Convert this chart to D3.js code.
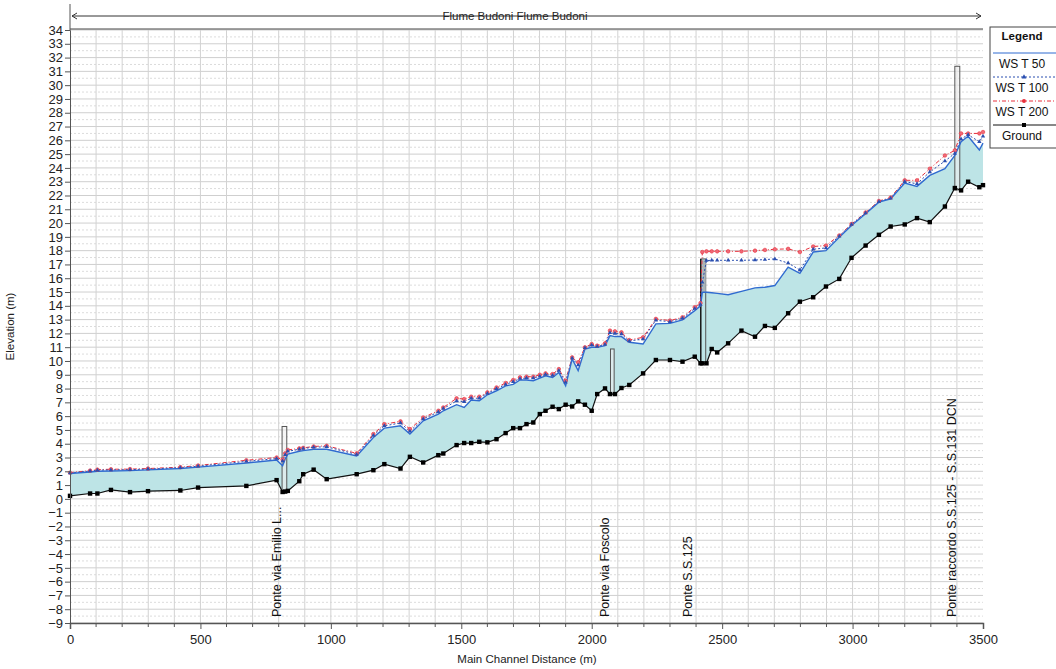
<!DOCTYPE html>
<html>
<head>
<meta charset="utf-8">
<script src="https://cdn.jsdelivr.net/npm/d3@7"></script>
<style>
  body { margin: 0; background: #fff; }
  text { font-family: "Liberation Sans", Arial, sans-serif; }
</style>
</head>
<body>
<div id="chart"></div>
<script>
// Main channel stations (m)
const stations = [0, 77, 105, 157, 230, 299, 423, 491, 676, 792, 815, 825, 835, 879, 894, 934, 984, 1099,
  1163, 1205, 1267, 1303, 1354, 1412, 1431, 1482, 1511, 1538, 1569, 1600, 1635, 1670, 1699, 1725, 1750,
  1776, 1801, 1823, 1850, 1874, 1900, 1925, 1948, 1974, 2000, 2021, 2051, 2070, 2089, 2114, 2144, 2197,
  2246, 2300, 2348, 2395, 2417, 2424, 2440, 2460, 2481, 2523, 2574, 2626, 2664, 2702, 2753, 2798, 2849,
  2898, 2949, 2996, 3050, 3101, 3146, 3200, 3247, 3296, 3354, 3392, 3416, 3443, 3486, 3500];

// Ground elevation (m)
const ground = [0.22, 0.39, 0.39, 0.65, 0.49, 0.56, 0.61, 0.82, 0.94, 1.36, 0.5, 0.53, 0.58, 1.28, 1.79, 2.12, 1.43, 1.79,
  2.08, 2.52, 2.2, 3.05, 2.64, 3.17, 3.29, 3.9, 4.05, 4.05, 4.14, 4.1, 4.33, 4.77, 5.13, 5.13, 5.42,
  5.54, 6.15, 6.39, 6.68, 6.51, 6.83, 6.7, 7.07, 6.83, 6.39, 7.6, 8.01, 7.6, 7.6, 8.04, 8.26, 9.1,
  10.07, 10.07, 9.95, 10.31, 9.83, 9.83, 9.83, 10.87, 10.62, 11.28, 12.2, 11.76, 12.54, 12.4, 13.46, 14.3, 14.62,
  15.4, 15.95, 17.48, 18.37, 19.15, 19.75, 19.9, 20.36, 20.07, 21.2, 22.54, 22.37, 23.0, 22.6, 22.75];

// Water surface, return period 50 years (m)
const wsT50 = [1.84, 1.95, 2.0, 2.02, 2.05, 2.1, 2.2, 2.3, 2.6, 2.82, 2.4, 2.9, 3.25, 3.45, 3.5, 3.6, 3.6, 3.12,
  4.45, 5.13, 5.3, 4.7, 5.66, 6.15, 6.39, 6.83, 6.63, 7.17, 7.12, 7.55, 7.84, 8.2, 8.3, 8.62, 8.62,
  8.57, 8.76, 8.93, 8.8, 9.17, 8.2, 10.14, 9.3, 10.87, 10.99, 10.99, 11.11, 11.84, 11.77, 11.77, 11.36, 11.23,
  12.69, 12.73, 12.98, 13.65, 14.0, 14.98, 14.98, 14.95, 14.9, 14.8, 15.05, 15.3, 15.35, 15.47, 16.8, 16.36, 17.9,
  18.0, 18.98, 19.83, 20.68, 21.52, 21.76, 22.9, 22.66, 23.46, 23.94, 24.9, 25.9, 26.3, 25.3, 25.8];

// Water surface, return period 100 years (m)
const wsT100 = [1.87, 2.02, 2.08, 2.1, 2.12, 2.16, 2.26, 2.37, 2.72, 2.92, 2.75, 3.2, 3.45, 3.6, 3.65, 3.75, 3.78, 3.22,
  4.6, 5.3, 5.5, 4.9, 5.8, 6.3, 6.55, 7.1, 7.05, 7.3, 7.3, 7.65, 7.98, 8.3, 8.5, 8.72, 8.76,
  8.76, 8.9, 9.02, 8.95, 9.3, 8.45, 10.2, 9.7, 10.95, 11.15, 11.05, 11.2, 12.05, 12.0, 11.95, 11.45, 11.6,
  12.95, 12.85, 13.1, 13.8, 14.1, 15.7, 17.28, 17.3, 17.3, 17.3, 17.3, 17.32, 17.35, 17.4, 17.1, 16.6, 18.1,
  18.2, 19.05, 19.9, 20.73, 21.55, 21.8, 23.0, 22.85, 23.7, 24.5, 25.05, 26.1, 26.4, 25.9, 26.3];

// Water surface, return period 200 years (m)
const wsT200 = [1.9, 2.05, 2.12, 2.15, 2.16, 2.2, 2.3, 2.42, 2.8, 3.0, 2.85, 3.3, 3.55, 3.66, 3.7, 3.8, 3.85, 3.3,
  4.7, 5.42, 5.62, 5.06, 5.9, 6.39, 6.63, 7.29, 7.24, 7.41, 7.41, 7.72, 8.08, 8.4, 8.62, 8.81, 8.86,
  8.86, 9.0, 9.1, 9.05, 9.41, 8.57, 10.26, 9.9, 10.99, 11.23, 11.11, 11.28, 12.2, 12.15, 12.08, 11.52, 11.72,
  13.05, 12.93, 13.17, 13.9, 14.2, 17.9, 17.95, 17.95, 17.95, 17.95, 17.95, 18.0, 18.05, 18.1, 18.13, 17.9, 18.3,
  18.37, 19.1, 19.93, 20.77, 21.6, 21.85, 23.1, 23.1, 23.94, 24.9, 25.27, 26.5, 26.5, 26.5, 26.6];

// Bridges: [start station, end station], [low, high] elevation
const bridgeNames = ["Ponte via Emilio L...", "Ponte via Foscolo", "Ponte S.S.125", "Ponte raccordo S.S.125 - S.S.131 DCN"];
const bridgeSta = [[813, 831], [2072, 2086], [2418, 2437], [3392, 3411]];
const bridgeElev = [[0.5, 5.25], [7.6, 10.87], [9.8, 17.4], [22.4, 31.37]];
const labelSta = [810, 2066, 2386, 3398];

const yTicks = d3.range(-9, 35);
const xTicks = [0, 500, 1000, 1500, 2000, 2500, 3000, 3500];
const legendItems = ["WS  T 50", "WS  T 100", "WS  T 200", "Ground"];

const W = 1056, H = 669;
const margin = { top: 30, right: 73, bottom: 46, left: 70 };

const svg = d3.select("#chart").append("svg")
  .attr("width", W)
  .attr("height", H);

const x = d3.scaleLinear().domain([0, 3500]).range([margin.left, W - margin.right]);
const y = d3.scaleLinear().domain([-9, 34]).range([H - margin.bottom, margin.top]);

const data = stations.map((s, i) => ({ s, g: ground[i], w50: wsT50[i], w100: wsT100[i], w200: wsT200[i] }));

// Grid
const grid = svg.append("g");
grid.selectAll(".hg").data(yTicks).enter().append("line")
  .attr("x1", x(0)).attr("x2", x(3500))
  .attr("y1", d => y(d)).attr("y2", d => y(d))
  .attr("stroke", "#cfcfcf").attr("stroke-width", 1);
grid.selectAll(".hh").data(yTicks.slice(0, -1)).enter().append("line")
  .attr("x1", x(0)).attr("x2", x(3500))
  .attr("y1", d => y(d + 0.5)).attr("y2", d => y(d + 0.5))
  .attr("stroke", "#dcdcdc").attr("stroke-dasharray", "2,2");
grid.selectAll(".vg").data(d3.range(100, 3500, 100)).enter().append("line")
  .attr("x1", d => x(d)).attr("x2", d => x(d))
  .attr("y1", y(34)).attr("y2", y(-9))
  .attr("stroke", "#d2d2d2").attr("stroke-width", 1);

// Water fill between ground and WS T50
svg.append("path")
  .datum(data)
  .attr("fill", "#bde4e6")
  .attr("d", d3.area().x(d => x(d.s)).y0(d => y(d.g)).y1(d => y(d.w50)));

// Bridges
bridgeSta.forEach((b, i) => {
  const e = bridgeElev[i];
  svg.append("rect")
    .attr("x", x(b[0])).attr("y", y(e[1]))
    .attr("width", x(b[1]) - x(b[0]))
    .attr("height", y(e[0]) - y(e[1]))
    .attr("fill", i === 2 ? "#bde4e6" : "#f0f0f0")
    .attr("fill-opacity", i === 2 ? 1 : 0.6)
    .attr("stroke", "#555").attr("stroke-width", 1);
});
// deck of S.S.125
svg.append("rect")
  .attr("x", x(2424)).attr("y", y(17.3))
  .attr("width", x(2437) - x(2424)).attr("height", y(14.98) - y(17.3))
  .attr("fill", "#a9b4b8");
svg.append("line")
  .attr("x1", x(2418)).attr("x2", x(2418))
  .attr("y1", y(17.4)).attr("y2", y(9.8))
  .attr("stroke", "#111").attr("stroke-width", 1.3);

// Lines
const line = key => d3.line().x(d => x(d.s)).y(d => y(d[key]));

svg.append("path").datum(data)
  .attr("fill", "none").attr("stroke", "#e8303c").attr("stroke-width", 1)
  .attr("stroke-dasharray", "4,2,1,2")
  .attr("d", line("w200"));
svg.append("path").datum(data)
  .attr("fill", "none").attr("stroke", "#2b4fb0").attr("stroke-width", 1)
  .attr("stroke-dasharray", "2,2")
  .attr("d", line("w100"));
svg.append("path").datum(data)
  .attr("fill", "none").attr("stroke", "#2f6bd0").attr("stroke-width", 1.4)
  .attr("d", line("w50"));
svg.append("path").datum(data)
  .attr("fill", "none").attr("stroke", "#111").attr("stroke-width", 1.2)
  .attr("d", line("g"));

// Markers
svg.selectAll(".m200").data(data).enter().append("circle")
  .attr("cx", d => x(d.s)).attr("cy", d => y(d.w200)).attr("r", 1.8)
  .attr("fill", "#ef6a78").attr("stroke", "#e8303c").attr("stroke-width", 0.6);
svg.selectAll(".m100").data(data).enter().append("path")
  .attr("transform", d => `translate(${x(d.s)},${y(d.w100)})`)
  .attr("d", d3.symbol(d3.symbolTriangle, 8))
  .attr("fill", "#2b4fb0");
svg.selectAll(".mg").data(data).enter().append("rect")
  .attr("x", d => x(d.s) - 2.2).attr("y", d => y(d.g) - 2.2)
  .attr("width", 4.4).attr("height", 4.4)
  .attr("fill", "#000");

// Bridge labels
svg.selectAll(".blab").data(bridgeNames).enter().append("text")
  .attr("transform", (d, i) => `translate(${x(labelSta[i])},617) rotate(-90)`)
  .attr("font-size", 12.5).attr("fill", "#111")
  .text(d => d);

// Axes
const yAxis = svg.append("g")
  .attr("transform", `translate(${margin.left},0)`)
  .call(d3.axisLeft(y).tickValues(yTicks).tickSize(5).tickPadding(2).tickFormat(d3.format("d")));
yAxis.select(".domain").attr("stroke", "#555");
yAxis.selectAll("line").attr("stroke", "#555");
yAxis.selectAll("text").attr("font-size", 13).attr("fill", "#222").attr("font-family", "Liberation Sans, Arial, sans-serif");

const xAxis = svg.append("g")
  .attr("transform", `translate(0,${y(-9)})`)
  .call(d3.axisBottom(x).tickValues(xTicks).tickSize(6).tickPadding(6).tickFormat(d3.format("d")));
xAxis.select(".domain").attr("stroke", "#555").attr("stroke-width", 1.5);
xAxis.selectAll("line").attr("stroke", "#555");
xAxis.selectAll("text").attr("font-size", 13).attr("fill", "#222").attr("font-family", "Liberation Sans, Arial, sans-serif");
svg.append("g").selectAll("line").data(d3.range(100, 3500, 100).filter(d => d % 500 !== 0)).enter().append("line")
  .attr("x1", d => x(d)).attr("x2", d => x(d))
  .attr("y1", y(-9)).attr("y2", y(-9) + 4)
  .attr("stroke", "#555");

// Frame lines
svg.append("line").attr("x1", x(0)).attr("x2", x(3500)).attr("y1", y(34) - 1).attr("y2", y(34) - 1)
  .attr("stroke", "#444").attr("stroke-width", 1.2);
svg.append("line").attr("x1", x(0)).attr("x2", x(0)).attr("y1", 4).attr("y2", y(34))
  .attr("stroke", "#555");

// Reach title with arrow
svg.append("line").attr("x1", x(0) + 2).attr("x2", x(3500) - 2).attr("y1", 16).attr("y2", 16)
  .attr("stroke", "#333");
svg.append("path").attr("d", `M${x(0) + 7},13 L${x(0) + 2},16 L${x(0) + 7},19`).attr("fill", "none").attr("stroke", "#333");
svg.append("path").attr("d", `M${x(3500) - 7},13 L${x(3500) - 2},16 L${x(3500) - 7},19`).attr("fill", "none").attr("stroke", "#333");
const title = svg.append("text").attr("x", 515).attr("y", 20).attr("text-anchor", "middle")
  .attr("font-size", 11.5).attr("fill", "#222").text("Flume Budoni Flume Budoni");
const bb = title.node().getBBox();
svg.insert("rect", "text").attr("x", bb.x - 8).attr("y", 10).attr("width", bb.width + 16).attr("height", 12).attr("fill", "#fff");

// Axis titles
svg.append("text")
  .attr("transform", `translate(14,${y(12.5)}) rotate(-90)`)
  .attr("text-anchor", "middle").attr("font-size", 11.5).attr("fill", "#222")
  .text("Elevation (m)");
svg.append("text")
  .attr("x", 527).attr("y", 663).attr("text-anchor", "middle")
  .attr("font-size", 11.5).attr("fill", "#222")
  .text("Main Channel Distance (m)");

// Legend
const lg = svg.append("g");
lg.append("rect").attr("x", 990).attr("y", 27).attr("width", 70).attr("height", 121)
  .attr("fill", "#fff").attr("stroke", "#444");
lg.append("text").attr("x", 1022).attr("y", 40).attr("text-anchor", "middle")
  .attr("font-size", 11.5).attr("font-weight", "bold").attr("fill", "#111").text("Legend");
const styles = [
  { stroke: "#2f6bd0", dash: null },
  { stroke: "#2b4fb0", dash: "2,2" },
  { stroke: "#e8303c", dash: "4,2,1,2" },
  { stroke: "#111", dash: null }
];
legendItems.forEach((t, i) => {
  const ly = 53 + i * 24;
  lg.append("line").attr("x1", 993).attr("x2", 1056).attr("y1", ly).attr("y2", ly)
    .attr("stroke", styles[i].stroke).attr("stroke-dasharray", styles[i].dash);
  if (i === 1) lg.append("path").attr("transform", `translate(1024,${ly})`).attr("d", d3.symbol(d3.symbolTriangle, 10)).attr("fill", "#2b4fb0");
  if (i === 2) lg.append("circle").attr("cx", 1024).attr("cy", ly).attr("r", 2).attr("fill", "#e8303c");
  if (i === 3) lg.append("rect").attr("x", 1022).attr("y", ly - 2).attr("width", 4).attr("height", 4).attr("fill", "#000");
  lg.append("text").attr("x", 1022).attr("y", ly + 15).attr("text-anchor", "middle")
    .attr("font-size", 12).attr("fill", "#111").text(t);
});
</script>
</body>
</html>
